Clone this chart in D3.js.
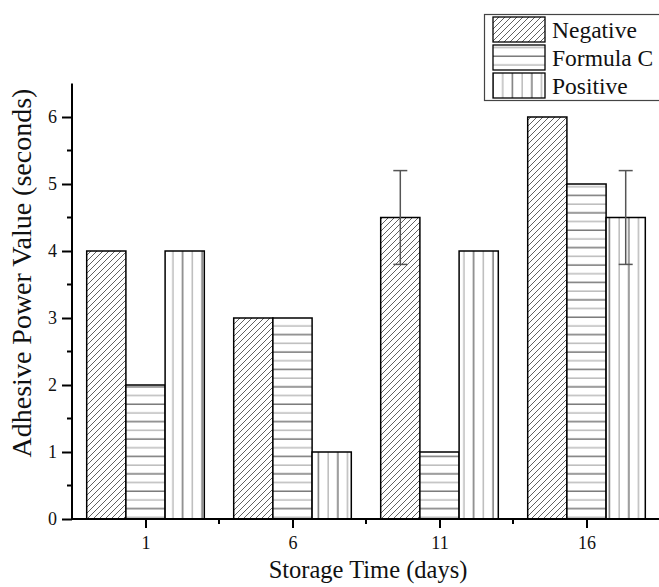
<!DOCTYPE html>
<html>
<head>
<meta charset="utf-8">
<script src="https://cdn.jsdelivr.net/npm/d3@7"></script>
<style>
  html, body { margin: 0; padding: 0; background: #fff; }
  svg { display: block; }
  svg text { font-family: "Liberation Serif", "Tinos", "Times New Roman", Times, "DejaVu Serif", serif !important; fill: #111; }
</style>
</head>
<body>
<svg id="chart" width="659" height="587"></svg>
<script>
// ---- data ----
const days = [1, 6, 11, 16];
const seriesNames = ["Negative", "Formula C", "Positive"];
const negativeValues = [4, 3, 4.5, 6];
const formulaCValues = [2, 3, 1, 5];
const positiveValues = [4, 1, 4, 4.5];
const negativeErrors = [0, 0, 0.7, 0];
const formulaCErrors = [0, 0, 0, 0];
const positiveErrors = [0, 0, 0, 0.7];
const yTickLabels = [0, 1, 2, 3, 4, 5, 6];
const xTickLabels = ["1", "6", "11", "16"];
const xMinorTicks = [3.5, 8.5, 13.5];
const yMinorTicks = [0.5, 1.5, 2.5, 3.5, 4.5, 5.5];

const seriesValues = [negativeValues, formulaCValues, positiveValues];
const seriesErrors = [negativeErrors, formulaCErrors, positiveErrors];
const patternIds = ["pat-neg", "pat-form", "pat-pos"];

const svg = d3.select("#chart");
const x = d3.scaleLinear().domain([-1.5, 18.5]).range([72, 660]);
const y = d3.scaleLinear().domain([0, 6.5]).range([519, 83.5]);

// ---- patterns ----
const defs = svg.append("defs");
const pNeg = defs.append("pattern").attr("id", "pat-neg")
  .attr("patternUnits", "userSpaceOnUse").attr("width", 6).attr("height", 6);
pNeg.append("rect").attr("width", 6).attr("height", 6).attr("fill", "#fff");
pNeg.append("path").attr("d", "M-1,1 L1,-1 M0,6 L6,0 M5,7 L7,5")
  .attr("stroke", "#444").attr("stroke-width", 0.85);

const pForm = defs.append("pattern").attr("id", "pat-form")
  .attr("patternUnits", "userSpaceOnUse").attr("width", 10).attr("height", 17.4);
pForm.append("rect").attr("width", 10).attr("height", 17.4).attr("fill", "#fff");
pForm.append("line").attr("x1", 0).attr("x2", 10).attr("y1", 4).attr("y2", 4)
  .attr("stroke", "#333").attr("stroke-width", 1);
pForm.append("line").attr("x1", 0).attr("x2", 10).attr("y1", 12.7).attr("y2", 12.7)
  .attr("stroke", "#999").attr("stroke-width", 1);

const pPos = defs.append("pattern").attr("id", "pat-pos")
  .attr("patternUnits", "userSpaceOnUse").attr("width", 19.4).attr("height", 10)
  .attr("x", 3);
pPos.append("rect").attr("width", 19.4).attr("height", 10).attr("fill", "#fff");
pPos.append("line").attr("y1", 0).attr("y2", 10).attr("x1", 5).attr("x2", 5)
  .attr("stroke", "#333").attr("stroke-width", 1);
pPos.append("line").attr("y1", 0).attr("y2", 10).attr("x1", 14.7).attr("x2", 14.7)
  .attr("stroke", "#999").attr("stroke-width", 1);

// ---- bars ----
const groupSpan = 4; // days covered by one group of bars
const barDays = groupSpan / seriesNames.length;
const barsG = svg.append("g");
seriesNames.forEach((name, si) => {
  const off = (si - 1) * barDays;
  barsG.selectAll(null).data(days.map((d, i) => ({ d, v: seriesValues[si][i] })))
    .enter().append("rect")
    .attr("x", o => x(o.d + off - barDays / 2))
    .attr("width", o => x(o.d + off + barDays / 2) - x(o.d + off - barDays / 2))
    .attr("y", o => y(o.v))
    .attr("height", o => y(0) - y(o.v))
    .attr("fill", `url(#${patternIds[si]})`)
    .attr("stroke", "#000").attr("stroke-width", 1.5);
});

// ---- error bars ----
const errG = svg.append("g").attr("stroke", "#555").attr("stroke-width", 1.5);
seriesNames.forEach((name, si) => {
  const off = (si - 1) * barDays;
  days.forEach((d, i) => {
    const e = seriesErrors[si][i];
    if (!e) return;
    const v = seriesValues[si][i];
    const cx = x(d + off);
    errG.append("line").attr("x1", cx).attr("x2", cx).attr("y1", y(v + e)).attr("y2", y(v - e));
    errG.append("line").attr("x1", cx - 7).attr("x2", cx + 7).attr("y1", y(v + e)).attr("y2", y(v + e));
    errG.append("line").attr("x1", cx - 7).attr("x2", cx + 7).attr("y1", y(v - e)).attr("y2", y(v - e));
  });
});

// ---- axes ----
const yAxis = d3.axisLeft(y).tickValues(yTickLabels).tickSize(10).tickPadding(5)
  .tickFormat(d3.format("d"));
const yg = svg.append("g").attr("transform", `translate(${x(-1.5)},0)`).call(yAxis);
yg.attr("font-family", null);
yg.select(".domain").remove();
yg.append("line").attr("x1", 0).attr("x2", 0).attr("y1", y(6.5)).attr("y2", y(0))
  .attr("stroke", "#000").attr("stroke-width", 2);
yg.selectAll(".tick line").attr("stroke", "#000").attr("stroke-width", 2);
yg.selectAll(".tick text").attr("font-size", 18).attr("fill", "#222");
yg.selectAll(".minor").data(yMinorTicks).enter().append("line").attr("class", "minor")
  .attr("x1", -5).attr("x2", 0).attr("y1", d => y(d)).attr("y2", d => y(d))
  .attr("stroke", "#000").attr("stroke-width", 2);

const xAxis = d3.axisBottom(x).tickValues(days).tickSize(9).tickPadding(8)
  .tickFormat((d, i) => xTickLabels[i]);
const xg = svg.append("g").attr("transform", `translate(0,${y(0)})`).call(xAxis);
xg.attr("font-family", null);
xg.select(".domain").remove();
xg.append("line").attr("x1", x(-1.5)).attr("x2", x(18.5)).attr("y1", 0).attr("y2", 0)
  .attr("stroke", "#000").attr("stroke-width", 2);
xg.selectAll(".tick line").attr("stroke", "#000").attr("stroke-width", 2);
xg.selectAll(".tick text").attr("font-size", 18).attr("fill", "#222");
xg.selectAll(".minor").data(xMinorTicks).enter().append("line").attr("class", "minor")
  .attr("y1", 0).attr("y2", 5).attr("x1", d => x(d)).attr("x2", d => x(d))
  .attr("stroke", "#000").attr("stroke-width", 2);

// ---- axis titles ----
svg.append("text").attr("x", 368).attr("y", 578).attr("text-anchor", "middle")
  .attr("font-size", 24.5).text("Storage Time (days)");
svg.append("text").attr("transform", "translate(31,273) rotate(-90)")
  .attr("text-anchor", "middle").attr("font-size", 28).text("Adhesive Power Value (seconds)");

// ---- legend ----
const lg = svg.append("g");
lg.append("rect").attr("x", 484.5).attr("y", 14.5).attr("width", 190).attr("height", 86)
  .attr("fill", "#fff").attr("stroke", "#444").attr("stroke-width", 1.2);
seriesNames.forEach((name, si) => {
  const top = 17 + si * 28;
  lg.append("rect").attr("x", 493).attr("y", top).attr("width", 52).attr("height", 25)
    .attr("fill", `url(#${patternIds[si]})`).attr("stroke", "#000").attr("stroke-width", 1.3);
  lg.append("text").attr("x", 552).attr("y", top + 21).attr("font-size", 23.5).text(name);
});
</script>
</body>
</html>
